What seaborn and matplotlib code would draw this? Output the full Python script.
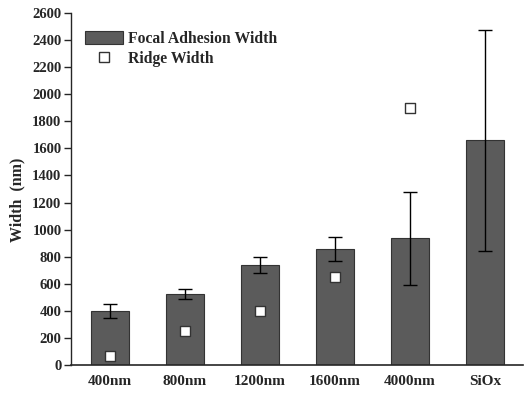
import numpy as np
import pandas as pd
import seaborn as sns
import matplotlib.pyplot as plt
from matplotlib.patches import Patch
from matplotlib.lines import Line2D

# values
categories = ['400nm', '800nm', '1200nm', '1600nm', '4000nm', 'SiOx']
fa_width = [400, 525, 740, 855, 935, 1660]        # focal adhesion width (nm)
fa_err = [50, 35, 60, 88, 340, 815]                # error bar half-length
ridge_cats = ['400nm', '800nm', '1200nm', '1600nm', '4000nm']
ridge_width = [70, 250, 400, 650, 1900]            # ridge width (nm)

sns.set_style('ticks')
plt.rcParams['font.family'] = ['Liberation Serif', 'DejaVu Serif']
plt.rcParams['font.weight'] = 'bold'

fig = plt.figure(figsize=(5.31, 3.93), dpi=100)
ax = fig.add_axes([0.134, 0.071, 0.851, 0.896])

df = pd.DataFrame({'cat': categories, 'fa': fa_width})
sns.barplot(data=df, x='cat', y='fa', order=categories, color='#5b5b5b',
            saturation=1, width=0.5, edgecolor='#333333', linewidth=0.8, ax=ax)
ax.errorbar(np.arange(len(categories)), fa_width, yerr=fa_err, fmt='none',
            ecolor='black', elinewidth=1, capsize=5, capthick=1, zorder=3)

rdf = pd.DataFrame({'cat': ridge_cats, 'ridge': ridge_width})
sns.scatterplot(data=rdf, x='cat', y='ridge', marker='s', s=55,
                color='white', edgecolor='#333333', linewidth=1, zorder=4, ax=ax)

ax.set_ylim(0, 2600)
ax.set_xlim(-0.52, 5.51)
ax.set_yticks(np.arange(0, 2601, 200))
ax.set_xlabel('')
ax.set_ylabel('Width  (nm)', fontsize=11.5, fontweight='bold')
ax.yaxis.set_label_coords(-0.102, 0.47)
ax.tick_params(axis='y', labelsize=10.5, length=5, width=1, direction='out', pad=2)
ax.tick_params(axis='x', labelsize=11, length=0, pad=7)
for lbl in ax.get_xticklabels() + ax.get_yticklabels():
    lbl.set_fontweight('bold')
sns.despine(ax=ax)
ax.spines['left'].set_linewidth(1)
ax.spines['bottom'].set_linewidth(1.2)

handles = [Patch(facecolor='#5b5b5b', edgecolor='#333333', linewidth=0.8),
           Line2D([], [], marker='s', linestyle='none', markersize=7,
                  markerfacecolor='white', markeredgecolor='#333333')]
ax.legend(handles, ['Focal Adhesion Width', 'Ridge Width'], loc='upper left',
          bbox_to_anchor=(0.0, 0.99), frameon=False, handlelength=2.4,
          handleheight=0.9, handletextpad=0.3, labelspacing=0.3,
          prop={'weight': 'bold', 'size': 11.3})

fig.savefig('out.png', dpi=100)
